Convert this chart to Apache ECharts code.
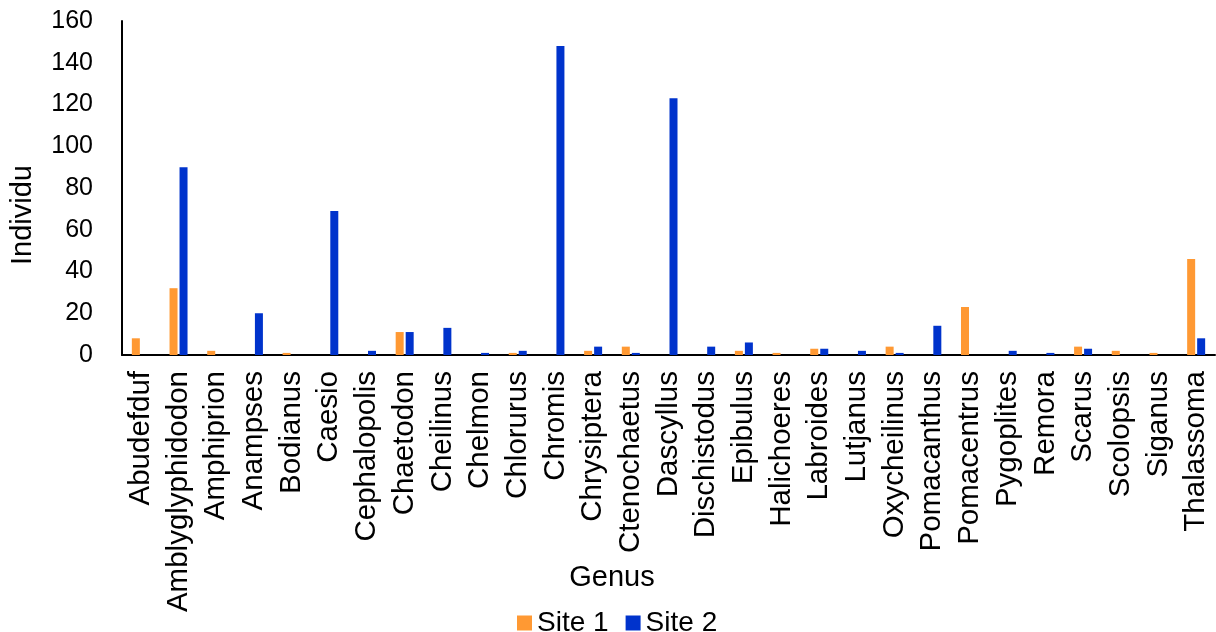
<!DOCTYPE html>
<html>
<head>
<meta charset="utf-8">
<script src="https://cdn.jsdelivr.net/npm/echarts@6/dist/echarts.min.js"></script>
<style>
  html, body { margin: 0; padding: 0; background: #fff; }
  #chart { width: 1216px; height: 632px; }
</style>
</head>
<body>
<div id="chart"></div>
<script>
// Fish genera recorded at the two survey sites
const genera = ['Abudefduf', 'Amblyglyphidodon', 'Amphiprion', 'Anampses', 'Bodianus', 'Caesio',
  'Cephalopolis', 'Chaetodon', 'Cheilinus', 'Chelmon', 'Chlorurus', 'Chromis', 'Chrysiptera',
  'Ctenochaetus', 'Dascyllus', 'Dischistodus', 'Epibulus', 'Halichoeres', 'Labroides', 'Lutjanus',
  'Oxycheilinus', 'Pomacanthus', 'Pomacentrus', 'Pygoplites', 'Remora', 'Scarus', 'Scolopsis',
  'Siganus', 'Thalassoma'];

// Individual counts per genus
const site1 = [8, 32, 2, 0, 1, 0, 0, 11, 0, 0, 1, 0, 2, 4, 0, 0, 2, 1, 3, 0,
  4, 0, 23, 0, 0, 4, 2, 1, 46];
const site2 = [0, 90, 0, 20, 0, 69, 2, 11, 13, 1, 2, 148, 4, 1, 123, 4, 6, 0, 3, 2,
  1, 14, 0, 2, 1, 3, 0, 0, 8];

const yTitle = 'Individu';
const xTitle = 'Genus';

const font = 'Liberation Sans, Arial, sans-serif';
const chart = echarts.init(document.getElementById('chart'));

chart.setOption({
  animation: false,
  textStyle: { fontFamily: font, color: '#000' },
  grid: { left: 122, right: 1, top: 21, bottom: 277, outerBoundsMode: 'none', containLabel: false },
  legend: {
    top: 604,
    left: 512,
    icon: 'rect',
    itemWidth: 15,
    itemHeight: 15,
    itemGap: 17,
    textStyle: { fontFamily: font, fontSize: 28, color: '#000' },
    data: ['Site 1', 'Site 2']
  },
  // axis titles, placed relative to the whole chart
  graphic: [{
    type: 'text',
    x: 23,
    y: 215,
    rotation: Math.PI / 2,
    style: {
      text: yTitle,
      font: '29px ' + font,
      fill: '#000',
      align: 'center',
      verticalAlign: 'middle'
    }
  }, {
    type: 'text',
    x: 612,
    y: 578,
    style: {
      text: xTitle,
      font: '29px ' + font,
      fill: '#000',
      align: 'center',
      verticalAlign: 'middle'
    }
  }],
  xAxis: {
    type: 'category',
    data: genera,
    axisLine: { lineStyle: { color: '#000', width: 2 } },
    axisTick: { show: false },
    axisLabel: { rotate: 90, interval: 0, margin: 16, fontFamily: font, fontSize: 29.5, color: '#000' }
  },
  yAxis: {
    type: 'value',
    min: 0,
    max: 160,
    interval: 20,
    axisLine: { show: true, lineStyle: { color: '#000', width: 2 } },
    axisTick: { show: false },
    splitLine: { show: false },
    axisLabel: { margin: 29, fontFamily: font, fontSize: 25, color: '#000' }
  },
  series: [
    { name: 'Site 1', type: 'bar', data: site1, barWidth: 8, barGap: '25%',
      itemStyle: { color: '#FF9933' } },
    { name: 'Site 2', type: 'bar', data: site2, barWidth: 8,
      itemStyle: { color: '#0033CC' } }
  ]
});
</script>
</body>
</html>
